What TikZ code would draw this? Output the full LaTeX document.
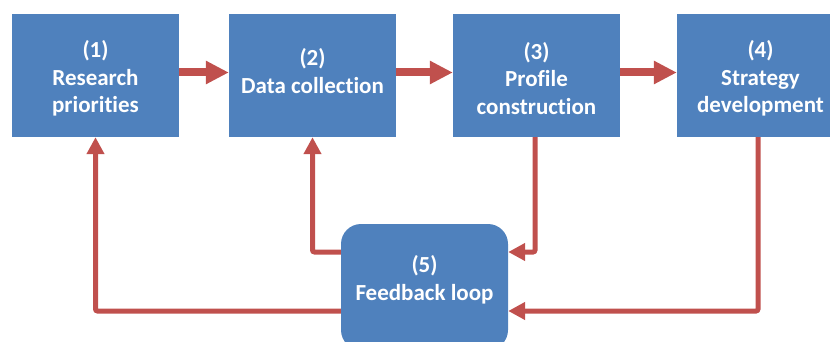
\documentclass[tikz,border=0pt]{standalone}
\usepackage{fontspec}
\setmainfont{Carlito}[Ligatures={NoCommon}]
\usetikzlibrary{arrows.meta}
\definecolor{boxblue}{HTML}{4F81BD}
\definecolor{arrred}{HTML}{C0504D}
\begin{document}
\begin{tikzpicture}[x=1pt,y=-1pt,
  box/.style={fill=boxblue, draw=none, minimum width=167pt, minimum height=123pt, inner sep=0pt},
  rbox/.style={fill=boxblue, draw=none, rounded corners=20pt, minimum width=167pt, minimum height=126pt, inner sep=0pt},
  txt/.style={text=white, align=center, inner sep=0pt, font=\fontsize{23}{27.5}\selectfont\bfseries},
  bigarrow/.style={draw=arrred, line width=8pt, -{Triangle[length=23pt,width=22pt]}},
  fbarrow/.style={draw=arrred, line width=5pt, rounded corners=2pt, -{Triangle[length=17pt,width=17pt]}}]
\useasboundingbox (0,0) rectangle (830,342);
\clip (0,0) rectangle (830,342);
\node[box] (b1) at (95.5,75.5) {};
\node[box] (b2) at (312.5,75.5) {};
\node[box] (b3) at (536.5,75.5) {};
\node[box] (b4) at (760.5,75.5) {};
\node[rbox] (b5) at (424.5,287) {};
\node[txt] (t1) at (95.5,78.5) {(1)\\Research\\priorities};
\node[txt] (t2) at (312.5,71) {(2)\\Data collection};
\node[txt] (t3) at (536.5,78.5) {(3)\\Profile\\construction};
\node[txt] (t4) at (760.5,78.5) {(4)\\Strategy\\development};
\node[txt] (t5) at (424.5,280) {(5)\\Feedback loop};
\draw[bigarrow] ([yshift=3pt]b1.east) -- ([yshift=3pt]b2.west);
\draw[bigarrow] ([yshift=3pt]b2.east) -- ([yshift=3pt]b3.west);
\draw[bigarrow] ([yshift=3pt]b3.east) -- ([yshift=3pt]b4.west);
\coordinate (yA) at (0,252);
\coordinate (yB) at (0,311);
\draw[fbarrow] (b5.west |- yA) -| (b2.south);
\draw[fbarrow] (b5.west |- yB) -| (b1.south);
\draw[fbarrow] ([xshift=-1.5pt]b3.south) |- (b5.east |- yA);
\draw[fbarrow] ([xshift=-2.5pt]b4.south) |- (b5.east |- yB);
\end{tikzpicture}
\end{document}
